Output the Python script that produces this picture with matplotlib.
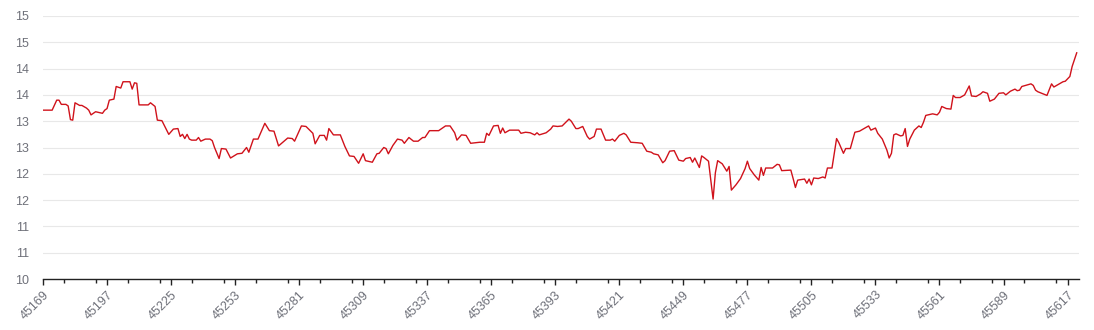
import numpy as np
import matplotlib
matplotlib.use("Agg")
import matplotlib.pyplot as plt
from matplotlib.ticker import MultipleLocator

# serial day numbers and values
days = [45169, 45173, 45175, 45176, 45177, 45179, 45180, 45181, 45182, 45183,
        45185, 45186, 45188, 45189, 45190, 45192, 45193, 45195, 45196, 45197,
        45198, 45200, 45201, 45203, 45204, 45207, 45208, 45209, 45210, 45211,
        45215, 45216, 45218, 45219, 45221, 45224, 45226, 45228, 45229, 45230,
        45231, 45232, 45233, 45234, 45236, 45237, 45238, 45240, 45242, 45243,
        45244, 45246, 45247, 45249, 45251, 45254, 45256, 45258, 45259, 45261,
        45263, 45266, 45268, 45270, 45272, 45276, 45278, 45279, 45282, 45284,
        45287, 45288, 45290, 45292, 45293, 45294, 45296, 45299, 45301, 45303,
        45305, 45307, 45309, 45310, 45313, 45315, 45316, 45318, 45319, 45320,
        45322, 45324, 45326, 45327, 45329, 45331, 45333, 45335, 45336, 45338,
        45342, 45345, 45347, 45349, 45350, 45352, 45354, 45356, 45360, 45362,
        45363, 45364, 45366, 45368, 45369, 45370, 45371, 45373, 45377, 45378,
        45380, 45382, 45384, 45385, 45386, 45389, 45391, 45392, 45394, 45396,
        45399, 45400, 45402, 45403, 45405, 45407, 45408, 45410, 45411, 45413,
        45415, 45417, 45418, 45419, 45421, 45423, 45424, 45426, 45429, 45431,
        45433, 45435, 45436, 45438, 45440, 45441, 45443, 45445, 45447, 45449,
        45450, 45452, 45453, 45454, 45456, 45457, 45458, 45460, 45462, 45463,
        45464, 45466, 45468, 45469, 45470, 45472, 45474, 45476, 45477, 45478,
        45480, 45482, 45483, 45484, 45485, 45488, 45490, 45491, 45492, 45496,
        45497, 45498, 45499, 45502, 45503, 45504, 45505, 45506, 45508, 45510,
        45511, 45512, 45514, 45516, 45517, 45519, 45520, 45522, 45524, 45526,
        45530, 45531, 45533, 45534, 45536, 45538, 45539, 45540, 45541, 45542,
        45544, 45545, 45546, 45547, 45548, 45550, 45552, 45553, 45554, 45555,
        45558, 45560, 45561, 45562, 45564, 45566, 45567, 45568, 45570, 45572,
        45574, 45575, 45577, 45579, 45580, 45582, 45583, 45585, 45587, 45589,
        45590, 45592, 45594, 45595, 45596, 45597, 45601, 45602, 45603, 45604,
        45608, 45610, 45611, 45613, 45615, 45616, 45618, 45619, 45621]

values = [13.21, 13.21, 13.40, 13.40, 13.32, 13.32, 13.29, 13.03, 13.02, 13.35,
          13.30, 13.30, 13.25, 13.21, 13.12, 13.18, 13.17, 13.15, 13.21, 13.24,
          13.40, 13.42, 13.66, 13.63, 13.75, 13.75, 13.61, 13.73, 13.72, 13.31,
          13.31, 13.35, 13.28, 13.02, 13.01, 12.75, 12.85, 12.86, 12.71, 12.75,
          12.67, 12.75, 12.66, 12.64, 12.64, 12.69, 12.62, 12.66, 12.66, 12.63,
          12.50, 12.29, 12.48, 12.47, 12.30, 12.38, 12.39, 12.50, 12.41, 12.66,
          12.66, 12.96, 12.82, 12.81, 12.53, 12.68, 12.67, 12.62, 12.91, 12.90,
          12.77, 12.57, 12.73, 12.73, 12.64, 12.86, 12.74, 12.74, 12.52, 12.34,
          12.33, 12.20, 12.38, 12.25, 12.22, 12.38, 12.39, 12.50, 12.48, 12.38,
          12.54, 12.66, 12.64, 12.58, 12.69, 12.62, 12.62, 12.69, 12.69, 12.82,
          12.82, 12.91, 12.91, 12.78, 12.64, 12.74, 12.73, 12.58, 12.60, 12.60,
          12.77, 12.73, 12.91, 12.92, 12.77, 12.87, 12.78, 12.83, 12.83, 12.77,
          12.79, 12.78, 12.74, 12.78, 12.74, 12.78, 12.85, 12.91, 12.90, 12.91,
          13.04, 13.00, 12.86, 12.86, 12.90, 12.71, 12.66, 12.71, 12.85, 12.85,
          12.64, 12.64, 12.66, 12.62, 12.73, 12.77, 12.74, 12.60, 12.59, 12.58,
          12.43, 12.41, 12.38, 12.36, 12.21, 12.25, 12.43, 12.44, 12.26, 12.24,
          12.29, 12.31, 12.22, 12.30, 12.12, 12.34, 12.31, 12.24, 11.52, 12.02,
          12.25, 12.19, 12.05, 12.14, 11.69, 11.79, 11.91, 12.10, 12.24, 12.10,
          11.98, 11.88, 12.12, 11.97, 12.11, 12.11, 12.18, 12.17, 12.06, 12.07,
          11.91, 11.74, 11.88, 11.90, 11.82, 11.90, 11.79, 11.92, 11.91, 11.94,
          11.92, 12.11, 12.11, 12.67, 12.59, 12.39, 12.48, 12.48, 12.79, 12.81,
          12.91, 12.83, 12.87, 12.77, 12.66, 12.45, 12.30, 12.39, 12.74, 12.76,
          12.72, 12.73, 12.86, 12.52, 12.66, 12.83, 12.91, 12.88, 12.98, 13.11,
          13.14, 13.12, 13.17, 13.28, 13.24, 13.23, 13.49, 13.45, 13.45, 13.50,
          13.67, 13.48, 13.47, 13.52, 13.56, 13.53, 13.38, 13.42, 13.53, 13.54,
          13.50, 13.57, 13.61, 13.58, 13.59, 13.66, 13.71, 13.68, 13.59, 13.56,
          13.49, 13.71, 13.65, 13.70, 13.75, 13.76, 13.85, 14.04, 14.30]

y_tick_labels = ['10', '11', '11', '12', '12', '13', '13', '14', '14', '15', '15']
x_tick_labels = ['45169', '45197', '45225', '45253', '45281', '45309', '45337',
                 '45365', '45393', '45421', '45449', '45477', '45505', '45533',
                 '45561', '45589', '45617']

plt.rcParams['font.family'] = ['Liberation Sans', 'DejaVu Sans']

fig = plt.figure(figsize=(10.94, 3.3), dpi=100)
ax = fig.add_axes([43 / 1094, 1 - 279 / 330, (1079 - 43) / 1094, (279 - 16) / 330])

ax.plot(days, values, color='#d0121b', lw=1.0, solid_joinstyle='round')

ax.set_xlim(45169, 45622)
ax.set_ylim(10, 15)

yt = np.arange(10, 15.01, 0.5)
ax.set_yticks(yt)
ax.set_yticklabels(y_tick_labels)
xt = [int(s) for s in x_tick_labels]
ax.set_xticks(xt)
ax.set_xticklabels(x_tick_labels, rotation=45, ha='right', va='top',
                   rotation_mode='anchor')
ax.xaxis.set_minor_locator(MultipleLocator(14))

ax.grid(axis='y', color='#e8e8e8', lw=0.8)
ax.set_axisbelow(True)
for s in ['top', 'right', 'left']:
    ax.spines[s].set_visible(False)
ax.spines['bottom'].set_color('#222222')
ax.spines['bottom'].set_linewidth(1.0)

ax.tick_params(axis='y', length=0, pad=10, labelsize=9, labelcolor='#6e7079')
ax.tick_params(axis='x', which='major', length=4, width=1, color='#222222',
               labelsize=9, labelcolor='#6e7079', pad=3)
ax.tick_params(axis='x', which='minor', length=3, width=1, color='#222222')

fig.savefig('out.png', dpi=100)
